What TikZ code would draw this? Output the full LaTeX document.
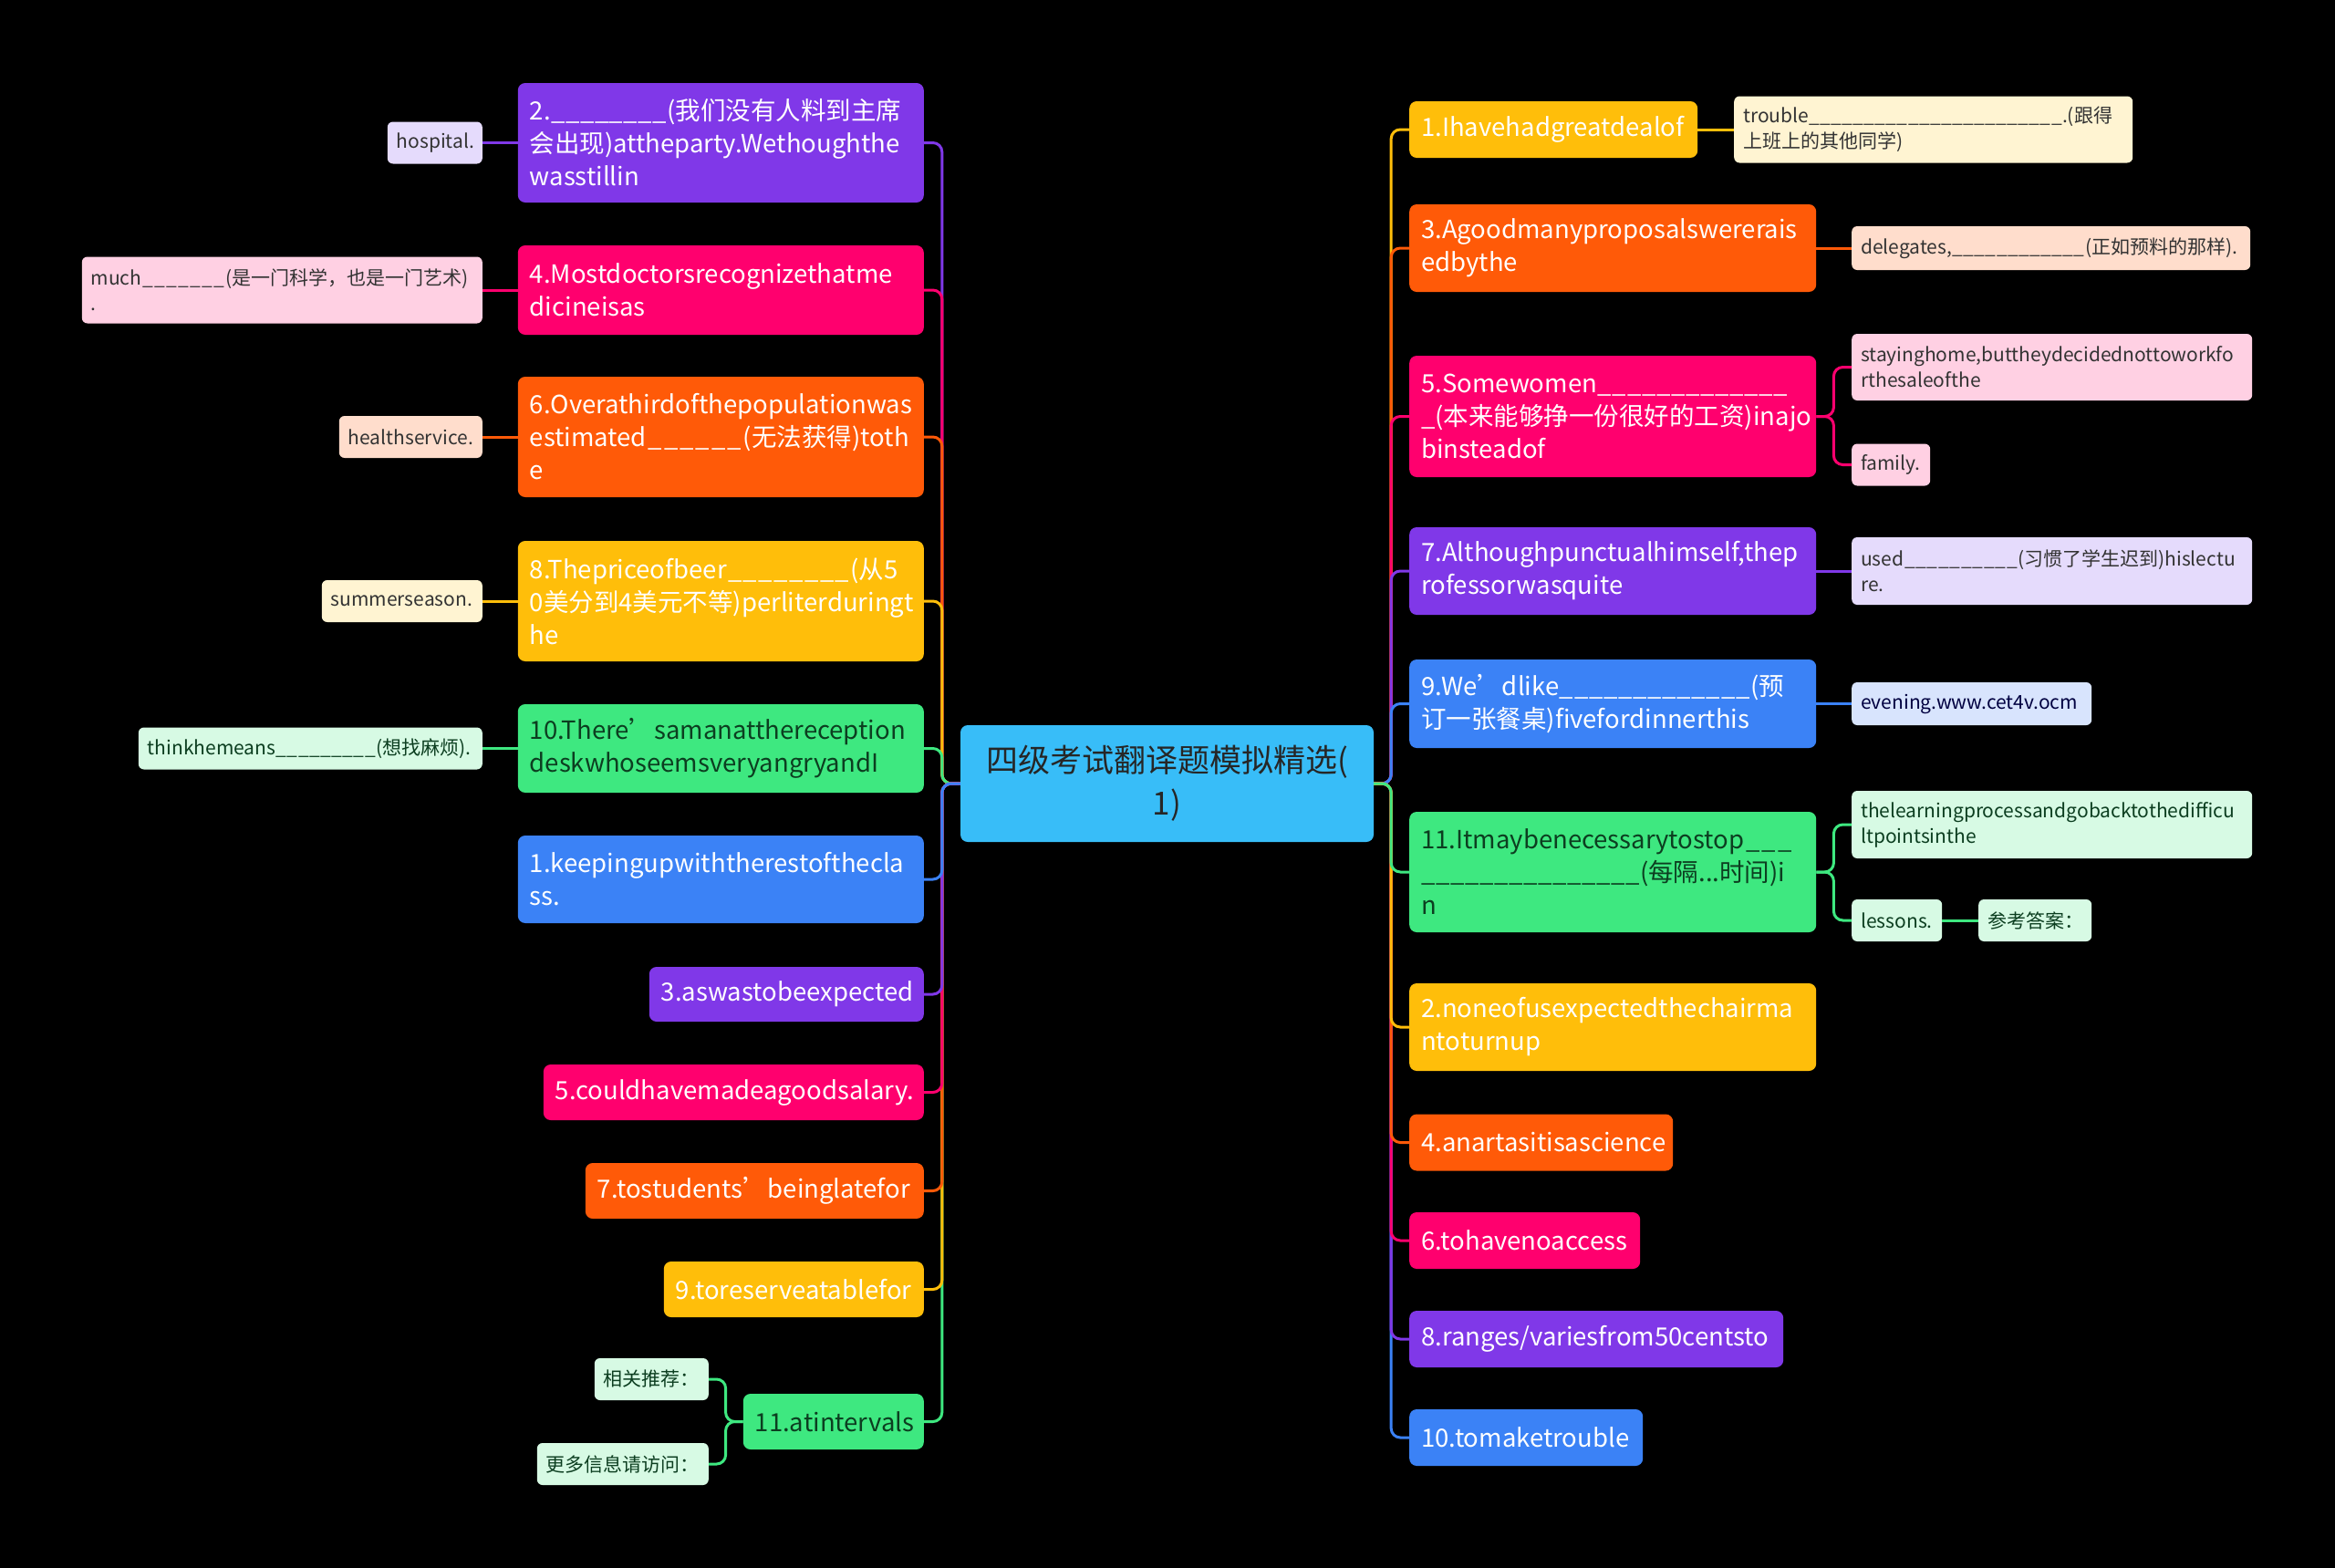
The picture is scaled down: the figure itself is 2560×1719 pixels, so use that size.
\documentclass[tikz,border=0pt]{standalone}
\usepackage{fontspec}
\setmainfont{Noto Sans CJK SC}
\definecolor{cpurple}{RGB}{128,56,232}
\definecolor{cpink}{RGB}{255,0,110}
\definecolor{corange}{RGB}{255,90,8}
\definecolor{cyellow}{RGB}{255,190,10}
\definecolor{cgreen}{RGB}{62,232,128}
\definecolor{cblue}{RGB}{59,130,246}
\definecolor{ccyan}{RGB}{56,189,248}
\definecolor{lpurple}{RGB}{229,219,252}
\definecolor{lpink}{RGB}{255,208,227}
\definecolor{lorange}{RGB}{255,221,204}
\definecolor{lyellow}{RGB}{255,244,210}
\definecolor{lgreen}{RGB}{215,250,228}
\definecolor{lblue}{RGB}{216,228,253}
\definecolor{dgreen}{RGB}{12,62,32}
\newcommand{\blank}[1]{\hbox to #1{\xleaders\hbox{\_}\hfil}}
\begin{document}
\begin{tikzpicture}[
    x=1pt, y=-1pt,
    topic/.style={rounded corners=8pt, align=left, inner xsep=13pt, inner ysep=0pt,
                  font=\fontsize{27.5}{36}\selectfont, text=white},
    leaf/.style={rounded corners=6pt, align=left, inner xsep=10pt, inner ysep=0pt,
                 font=\fontsize{21}{28}\selectfont, text=black!80},
    link/.style={line width=3pt, rounded corners=10pt},
  ]
  \fill[black] (0,0) rectangle (2560,1719);
  \node[fill=ccyan, rounded corners=8pt, minimum width=453pt, minimum height=128pt,
        align=center, font=\fontsize{35}{47}\selectfont, text=black!85] (root) at (1279.5,859)
    {四级考试翻译题模拟精选(\\1)};

  % left side
  \node[topic, fill=cpurple, anchor=east, text width=419pt, minimum height=131pt] (l2) at (1013,156.5)
    {2.\blank{128pt}(我们没有人料到主席\\会出现)attheparty.Wethoughthe\\wasstillin};
  \node[topic, fill=cpink, anchor=east, text width=419pt, minimum height=98pt] (l4) at (1013,318)
    {4.Mostdoctorsrecognizethatme\\dicineisas};
  \node[topic, fill=corange, anchor=east, text width=419pt, minimum height=132pt] (l6) at (1013,479)
    {6.Overathirdofthepopulationwas\\estimated\blank{106pt}(无法获得)toth\\e};
  \node[topic, fill=cyellow, anchor=east, text width=419pt, minimum height=132pt] (l8) at (1013,659)
    {8.Thepriceofbeer\blank{136pt}(从5\\0美分到4美元不等)perliterduringt\\he};
  \node[topic, fill=cgreen, text=dgreen, anchor=east, text width=419pt, minimum height=97pt] (l10) at (1013,820.5)
    {10.There’samanatthereception\\deskwhoseemsveryangryandI};
  \node[topic, fill=cblue, anchor=east, text width=419pt, minimum height=96pt] (la1) at (1013,964)
    {1.keepingupwiththerestofthecla\\ss.};
  \node[topic, fill=cpurple, anchor=east, text width=275pt, minimum height=60pt] (la3) at (1013,1090)
    {3.aswastobeexpected};
  \node[topic, fill=cpink, anchor=east, text width=391pt, minimum height=61pt] (la5) at (1013,1197.5)
    {5.couldhavemadeagoodsalary.};
  \node[topic, fill=corange, anchor=east, text width=345pt, minimum height=61pt] (la7) at (1013,1305.5)
    {7.tostudents’beinglatefor};
  \node[topic, fill=cyellow, anchor=east, text width=259pt, minimum height=61pt] (la9) at (1013,1413.5)
    {9.toreserveatablefor};
  \node[topic, fill=cgreen, text=dgreen, anchor=east, text width=172pt, minimum height=61pt] (la11) at (1013,1558.5)
    {11.atintervals};

  \node[leaf, fill=lpurple, anchor=east, text width=84pt, minimum height=46pt] (hosp) at (529,156.5) {hospital.};
  \node[leaf, fill=lpink, anchor=east, text width=419pt, minimum height=73pt] (much) at (529,318)
    {much\blank{92pt}(是一门科学，也是一门艺术)\\.};
  \node[leaf, fill=lorange, anchor=east, text width=137pt, minimum height=46pt] (health) at (529,479) {healthservice.};
  \node[leaf, fill=lyellow, anchor=east, text width=156pt, minimum height=46pt] (summer) at (529,659) {summerseason.};
  \node[leaf, fill=lgreen, text=dgreen, anchor=east, text width=357pt, minimum height=46pt] (think) at (529,820.5)
    {thinkhemeans\blank{110pt}(想找麻烦).};
  \node[leaf, fill=lgreen, text=dgreen, anchor=east, text width=105pt, minimum height=46pt] (rel) at (777,1512) {相关推荐：};
  \node[leaf, fill=lgreen, text=dgreen, anchor=east, text width=168pt, minimum height=46pt] (more) at (777,1605) {更多信息请访问：};

  % right side
  \node[topic, fill=cyellow, anchor=west, text width=290pt, minimum height=62pt] (r1) at (1545,142)
    {1.Ihavehadgreatdealof};
  \node[topic, fill=corange, anchor=west, text width=420pt, minimum height=96pt] (r3) at (1545,272)
    {3.Agoodmanyproposalswererais\\edbythe};
  \node[topic, fill=cpink, anchor=west, text width=420pt, minimum height=133pt] (r5) at (1545,456.5)
    {5.Somewomen\blank{210pt}\\\_(本来能够挣一份很好的工资)inajo\\binsteadof};
  \node[topic, fill=cpurple, anchor=west, text width=420pt, minimum height=96pt] (r7) at (1545,626)
    {7.Althoughpunctualhimself,thep\\rofessorwasquite};
  \node[topic, fill=cblue, anchor=west, text width=420pt, minimum height=97pt] (r9) at (1545,771.5)
    {9.We’dlike\blank{210pt}(预\\订一张餐桌)fivefordinnerthis};
  \node[topic, fill=cgreen, text=dgreen, anchor=west, text width=420pt, minimum height=132pt] (r11) at (1545,956)
    {11.Itmaybenecessarytostop\blank{54pt}\\\mbox{\blank{240pt}(每隔...时间)i}\\n};
  \node[topic, fill=cyellow, anchor=west, text width=420pt, minimum height=96pt] (ra2) at (1545,1126)
    {2.noneofusexpectedthechairma\\ntoturnup};
  \node[topic, fill=corange, anchor=west, text width=263pt, minimum height=62pt] (ra4) at (1545,1252.5)
    {4.anartasitisascience};
  \node[topic, fill=cpink, anchor=west, text width=227pt, minimum height=62pt] (ra6) at (1545,1360)
    {6.tohavenoaccess};
  \node[topic, fill=cpurple, anchor=west, text width=384pt, minimum height=62pt] (ra8) at (1545,1468)
    {8.ranges/variesfrom50centsto};
  \node[topic, fill=cblue, anchor=west, text width=230pt, minimum height=62pt] (ra10) at (1545,1576)
    {10.tomaketrouble};

  \node[leaf, fill=lyellow, anchor=west, text width=417pt, minimum height=73pt] (trouble) at (1901,142)
    {trouble\blank{278pt}.(跟得\\上班上的其他同学)};
  \node[leaf, fill=lorange, anchor=west, text width=417pt, minimum height=48pt] (deleg) at (2030,272)
    {delegates,\blank{146pt}(正如预料的那样).};
  \node[leaf, fill=lpink, anchor=west, text width=419pt, minimum height=73pt] (stay) at (2030,402.5)
    {stayinghome,buttheydecidednottoworkfo\\rthesaleofthe};
  \node[leaf, fill=lpink, anchor=west, text width=66pt, minimum height=46pt] (family) at (2030,509.5) {family.};
  \node[leaf, fill=lpurple, anchor=west, text width=419pt, minimum height=74pt] (used) at (2030,626)
    {used\blank{125pt}(习惯了学生迟到)hislectu\\re.};
  \node[leaf, fill=lblue, text=blue!25!black, anchor=west, text width=243pt, minimum height=47pt] (evening) at (2030,771.5)
    {evening.www.cet4v.ocm};
  \node[leaf, fill=lgreen, text=dgreen, anchor=west, text width=419pt, minimum height=74pt] (learn) at (2030,904)
    {thelearningprocessandgobacktothedifficu\\ltpointsinthe};
  \node[leaf, fill=lgreen, text=dgreen, anchor=west, text width=79pt, minimum height=46pt] (lessons) at (2030,1009) {lessons.};
  \node[leaf, fill=lgreen, text=dgreen, anchor=west, text width=104pt, minimum height=46pt] (answer) at (2169,1009) {参考答案：};

  % branches, left
  \draw[link, cpurple] (root.west) -- ++(-20,0) |- (l2.east);
  \draw[link, cpink] (root.west) -- ++(-20,0) |- (l4.east);
  \draw[link, corange] (root.west) -- ++(-20,0) |- (l6.east);
  \draw[link, cyellow] (root.west) -- ++(-20,0) |- (l8.east);
  \draw[link, cgreen] (root.west) -- ++(-20,0) |- (l10.east);
  \draw[link, cgreen] (root.west) -- ++(-20,0) |- (la11.east);
  \draw[link, cyellow] (root.west) -- ++(-20,0) |- (la9.east);
  \draw[link, corange] (root.west) -- ++(-20,0) |- (la7.east);
  \draw[link, cpink] (root.west) -- ++(-20,0) |- (la5.east);
  \draw[link, cpurple] (root.west) -- ++(-20,0) |- (la3.east);
  \draw[link, cblue] (root.west) -- ++(-20,0) |- (la1.east);
  % branches, right
  \draw[link, cyellow] (root.east) -- ++(19,0) |- (r1.west);
  \draw[link, corange] (root.east) -- ++(19,0) |- (r3.west);
  \draw[link, cpink] (root.east) -- ++(19,0) |- (r5.west);
  \draw[link, cpurple] (root.east) -- ++(19,0) |- (r7.west);
  \draw[link, cblue] (root.east) -- ++(19,0) |- (r9.west);
  \draw[link, cblue] (root.east) -- ++(19,0) |- (ra10.west);
  \draw[link, cpurple] (root.east) -- ++(19,0) |- (ra8.west);
  \draw[link, cpink] (root.east) -- ++(19,0) |- (ra6.west);
  \draw[link, corange] (root.east) -- ++(19,0) |- (ra4.west);
  \draw[link, cyellow] (root.east) -- ++(19,0) |- (ra2.west);
  \draw[link, cgreen] (root.east) -- ++(19,0) |- (r11.west);

  % leaves
  \draw[link, cpurple] (l2.west) -- (hosp.east);
  \draw[link, cpink] (l4.west) -- (much.east);
  \draw[link, corange] (l6.west) -- (health.east);
  \draw[link, cyellow] (l8.west) -- (summer.east);
  \draw[link, cgreen] (l10.west) -- (think.east);
  \draw[link, cgreen] (la11.west) -- ++(-19,0) |- (rel.east);
  \draw[link, cgreen] (la11.west) -- ++(-19,0) |- (more.east);
  \draw[link, cyellow] (r1.east) -- (trouble.west);
  \draw[link, corange] (r3.east) -- (deleg.west);
  \draw[link, cpink] (r5.east) -- ++(19,0) |- (stay.west);
  \draw[link, cpink] (r5.east) -- ++(19,0) |- (family.west);
  \draw[link, cpurple] (r7.east) -- (used.west);
  \draw[link, cblue] (r9.east) -- (evening.west);
  \draw[link, cgreen] (r11.east) -- ++(19,0) |- (learn.west);
  \draw[link, cgreen] (r11.east) -- ++(19,0) |- (lessons.west);
  \draw[link, cgreen] (lessons.east) -- (answer.west);
\end{tikzpicture}
\end{document}
